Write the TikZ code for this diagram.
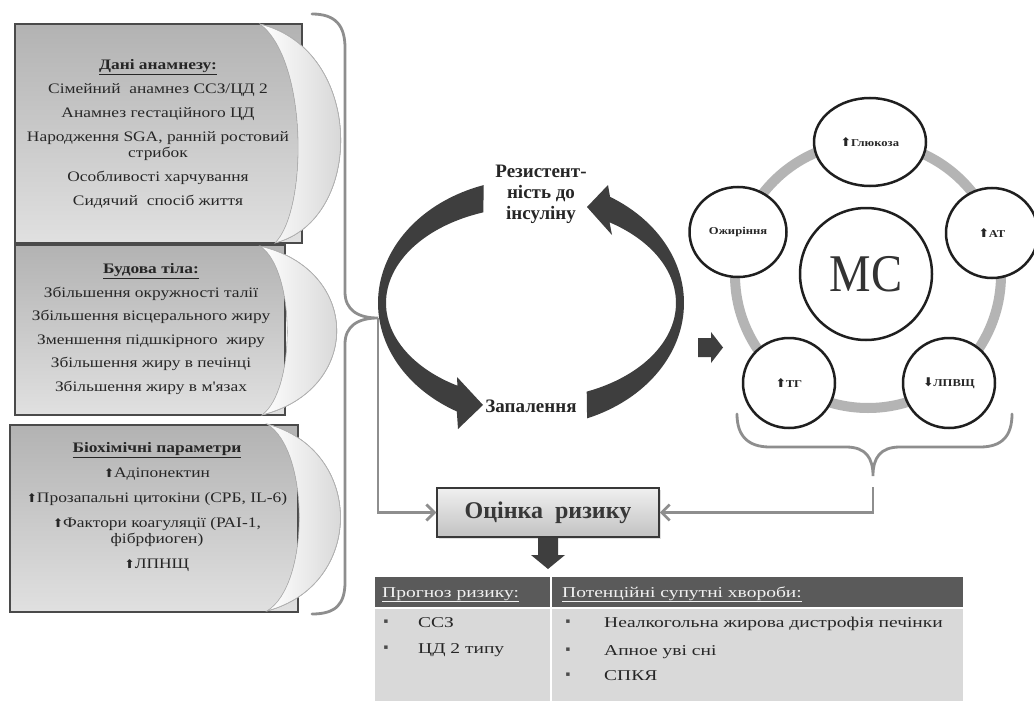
\documentclass[tikz,border=0pt]{standalone}
\usepackage{fontspec}
\setmainfont{Liberation Serif}
\newfontfamily\boxfont{Liberation Serif}[FakeStretch=1.2]
\newfontfamily\tabfont{Liberation Serif}[FakeStretch=1.3]
\newfontfamily\circfont{Liberation Serif}[FakeStretch=1.2]
\newfontfamily\mcfont{Liberation Serif}[FakeStretch=0.88]
\newfontfamily\symfont{DejaVu Sans}
\usetikzlibrary{shapes.geometric,arrows.meta,shadows}
\definecolor{boxline}{HTML}{4A4A4A}
\definecolor{darkarr}{HTML}{3E3E3E}
\definecolor{conngray}{HTML}{8E8E8E}
\definecolor{ringgray}{HTML}{B4B4B4}
\definecolor{txt}{HTML}{262626}
\definecolor{hdrfill}{HTML}{5A5A5A}
\definecolor{bodyfill}{HTML}{D9D9D9}
\newcommand{\uar}{{\symfont\fontsize{12}{12}\selectfont ⬆}}
\newcommand{\dar}{{\symfont\fontsize{12}{12}\selectfont ⬇}}
\tikzset{
  lbox/.style={draw=boxline, line width=1.3pt, top color=black!30, bottom color=black!12, inner sep=0},
  crescent/.style={draw=black!30, line width=0.6pt, left color=white, right color=black!20},
  btext/.style={font=\boxfont\fontsize{14.5}{16}\selectfont, text=txt, align=center, inner sep=0},
  brace/.style={draw=conngray, line width=2.8pt, line cap=round},
  conn/.style={draw=conngray, line width=2.8pt, -{Straight Barb[length=8pt,width=16pt]}},
  cyctext/.style={font=\bfseries\fontsize{19}{21}\selectfont, text=txt, align=center, inner sep=0},
  ring/.style={draw=ringgray, line width=10pt},
  smallc/.style={ellipse, draw=black!88, line width=2.5pt, fill=white, inner sep=0,
     font=\circfont\bfseries\fontsize{10.5}{12}\selectfont, text=black!85},
  riskbox/.style={draw=black!78, line width=1.5pt, top color=black!6, bottom color=black!24,
     minimum width=222pt, minimum height=49pt, inner sep=0,
     font=\bfseries\fontsize{24}{26}\selectfont, text=black!78,
     drop shadow={shadow xshift=2pt, shadow yshift=-2pt, opacity=0.25}},
  htext/.style={font=\tabfont\fontsize{15}{17}\selectfont, text=black!5, inner sep=0},
  ttext/.style={font=\tabfont\fontsize{15}{17}\selectfont, text=txt, inner sep=0},
  bul/.style={font=\symfont\fontsize{7}{8}\selectfont, text=black!70, inner sep=0}
}
\begin{document}
\begin{tikzpicture}[x=1pt,y=-1pt]
\useasboundingbox[fill=white] (0,0) rectangle (1034,701);

% ---------- left boxes ----------
\node[lbox, minimum width=287pt, minimum height=219pt] (box1) at (158.5,133.5) {};
\fill[crescent] (260,24) .. controls (365,50) and (365,220) .. (275,243) .. controls (308,210) and (308,60) .. (260,24) -- cycle;
\node[lbox, minimum width=270pt, minimum height=170pt] (box2) at (150,330) {};
\fill[crescent] (260,246) .. controls (362,270) and (362,390) .. (262,415) .. controls (296,390) and (296,270) .. (260,246) -- cycle;
\node[lbox, minimum width=288pt, minimum height=187pt] (box3) at (154,518.5) {};
\fill[crescent] (267,424) .. controls (365,450) and (365,585) .. (267,611) .. controls (310,585) and (310,450) .. (267,424) -- cycle;
\draw[draw=black!30, line width=0.6pt] (260,24) .. controls (365,50) and (365,220) .. (275,243);
\draw[draw=black!30, line width=0.6pt] (260,246) .. controls (362,270) and (362,390) .. (262,415);
\draw[draw=black!30, line width=0.6pt] (267,424) .. controls (365,450) and (365,585) .. (267,611);

\node[btext] (t1) at (158,134) {\textbf{\underline{Дані анамнезу:}}\\[8pt]
  Сімейний\ \ анамнез ССЗ/ЦД 2\\[8pt]
  Анамнез гестаційного ЦД\\[8pt]
  Народження SGA, ранній ростовий\\
  стрибок\\[8pt]
  Особливості харчування\\[8pt]
  Сидячий\ \ спосіб життя};
\node[btext] (t2) at (151,329) {\textbf{\underline{Будова тіла:}}\\[7.6pt]
  Збільшення окружності талії\\[7.6pt]
  Збільшення вісцерального жиру\\[7.6pt]
  Зменшення підшкірного\ \ жиру\\[7.6pt]
  Збільшення жиру в печінці\\[7.6pt]
  Збільшення жиру в м'язах};
\node[btext] (t3) at (157,507) {\textbf{\underline{Біохімічні параметри}}\\[9pt]
  \uar Адіпонектин\\[9pt]
  \uar Прозапальні цитокіни (СРБ, IL-6)\\[9pt]
  \uar Фактори коагуляції (РАІ-1,\\
  фібрфиоген)\\[9pt]
  \uar ЛПНЩ};

% ---------- left brace ----------
\coordinate (lbtip) at (378,318);
\draw[brace] (312,14) .. controls (336,14) and (345,26) .. (345,48) -- (345,292)
  .. controls (345,310) and (358,318) .. (lbtip)
  .. controls (358,318) and (345,326) .. (345,344) -- (345,582)
  .. controls (345,604) and (336,614) .. (312,614);

% ---------- cycle ----------
\fill[darkarr] plot[domain=252:119,samples=60,variable=\t] ({531+153*cos(\t)},{303+124*sin(\t)})
  -- (458,429) -- (483,405) -- (457,377)
  -- plot[domain=120.5:250.8,samples=60,variable=\t] ({531+145*cos(\t)},{303+96*sin(\t)}) -- cycle;
\fill[darkarr] plot[domain=68.5:-58.9,samples=60,variable=\t] ({531+153*cos(\t)},{303+124*sin(\t)})
  -- (608,185) -- (587,207) -- (612,235)
  -- plot[domain=-57.2:67.4,samples=60,variable=\t] ({531+145*cos(\t)},{303+96*sin(\t)}) -- cycle;
\node[cyctext] (res) at (541,194) {Резистент-\\ність до\\інсуліну};
\node[cyctext] (inf) at (531,406) {Запалення};

% block arrow to MC
\fill[darkarr] (698,338) -- (711,338) -- (711,332) -- (723,347.5) -- (711,363) -- (711,357) -- (698,357) -- cycle;

% ---------- MC ring ----------
\draw[ring] (868,275) circle[radius=133pt];
\node[circle, draw=black!88, line width=2.5pt, fill=white, minimum size=132pt, inner sep=0,
      font=\mcfont\fontsize{53}{53}\selectfont, text=black!80] (mc) at (866,274) {МС};
\node[smallc, minimum width=112pt, minimum height=88pt] (glu) at (870,142) {\uar Глюкоза};
\node[smallc, minimum width=97pt, minimum height=90pt] (obe) at (738,232) {Ожиріння};
\node[smallc, minimum width=92pt, minimum height=90pt] (bp) at (992,233) {\uar АТ};
\node[smallc, minimum width=92pt, minimum height=90pt] (tg) at (789,383) {\uar ТГ};
\node[smallc, minimum width=92pt, minimum height=90pt] (hdl) at (949,383) {\dar ЛПВЩ};

% bottom brace
\coordinate (rbtip) at (873,476);
\draw[brace] (737,414) .. controls (737,436) and (748,447) .. (770,447) -- (846,447)
  .. controls (866,447) and (873,458) .. (rbtip)
  .. controls (873,458) and (880,447) .. (900,447) -- (980,447)
  .. controls (1002,447) and (1012,436) .. (1012,414);
\coordinate (rbtail) at (873,487);

% ---------- risk box ----------
\node[riskbox] (risk) at (548,512.5) {Оцінка\ \ ризику};
\draw[conn] (lbtip) |- (risk.west);
\draw[conn] (rbtail) |- (risk.east);
\fill[darkarr] (538,538) -- (558,538) -- (558,555) -- (565,555) -- (548,569) -- (531,555) -- (538,555) -- cycle;

% ---------- table ----------
\fill[hdrfill] (375,577) rectangle (963,607);
\fill[bodyfill] (375,609) rectangle (963,701);
\draw[white, line width=2.5pt] (551,577) -- (551,701);
\node[htext, anchor=base west] (hp) at (382,597) {\underline{Прогноз ризику:}};
\node[htext, anchor=base west] (hc) at (562,597) {\underline{Потенційні супутні хвороби:}};
\node[bul] (bl1) at (386,622) {▪};
\node[bul] (bl2) at (386,648) {▪};
\node[ttext, anchor=base west] (l1) at (418,627) {ССЗ};
\node[ttext, anchor=base west] (l2) at (418,653) {ЦД 2 типу};
\node[bul] (br1) at (568,622) {▪};
\node[bul] (br2) at (568,650) {▪};
\node[bul] (br3) at (568,675) {▪};
\node[ttext, anchor=base west] (r1) at (604,627) {Неалкогольна жирова дистрофія печінки};
\node[ttext, anchor=base west] (r2) at (604,655) {Апное уві сні};
\node[ttext, anchor=base west] (r3) at (604,680) {СПКЯ};
\end{tikzpicture}
\end{document}
